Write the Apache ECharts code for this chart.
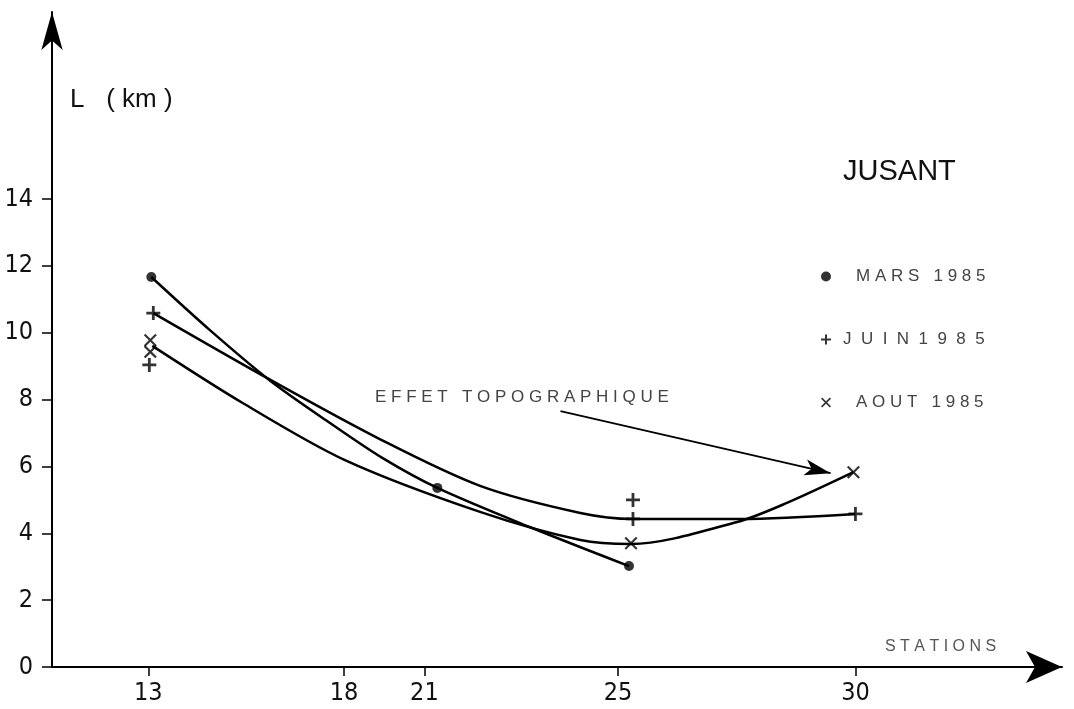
<!DOCTYPE html>
<html>
<head>
<meta charset="utf-8">
<script src="https://cdn.jsdelivr.net/npm/echarts@6/dist/echarts.min.js"></script>
<style>
  html, body { margin: 0; padding: 0; background: #fff; }
  #chart { width: 1074px; height: 709px; }
</style>
</head>
<body>
<div id="chart"></div>
<script>
// Station positions along the profile (axis units) and their labels
const stationKm = [9.7, 29.4, 37.5, 57.0, 80.9];
const stationLabels = ['13', '18', '21', '25', '30'];
const yTicks = [0, 2, 4, 6, 8, 10, 12, 14];

// Measured lengths L (km) per campaign: [position, value]
const marsPoints = [[10.0, 11.67], [38.8, 5.36], [58.1, 3.02]];
const juinPoints = [[10.2, 10.59], [9.8, 9.04], [58.5, 5.0], [58.5, 4.43], [80.9, 4.58]];
const aoutPoints = [[9.9, 9.78], [9.9, 9.43], [58.3, 3.70], [80.7, 5.83]];

// Hand-fitted trend curves through each campaign
const marsCurve = [[10.0, 11.67], [15.9, 10.08], [22.0, 8.56], [28.0, 7.30], [33.3, 6.25],
  [38.8, 5.36], [48.1, 4.19], [58.1, 3.02]];
const juinCurve = [[10.2, 10.59], [22.0, 8.59], [33.0, 6.82], [43.1, 5.42], [53.2, 4.61],
  [58.5, 4.43], [69.3, 4.43], [80.9, 4.58]];
const aoutCurve = [[10.1, 9.61], [19.2, 7.90], [29.5, 6.19], [43.1, 4.64], [53.2, 3.80],
  [58.3, 3.68], [69.0, 4.34], [74.0, 4.91], [80.7, 5.83]];

// Annotation arrow (tail, head)
const arrowTail = [51.2, 7.66];
const arrowHead = [78.4, 5.80];

const seriesNames = ['M A R S   1 9 8 5', 'J  U  I  N  1  9  8  5', 'A O U T   1 9 8 5'];

const PLUS = 'path://M-1.2,-6H1.2V-1.2H6V1.2H1.2V6H-1.2V1.2H-6V-1.2H-1.2Z';
const CROSS = 'path://M-6,-4.6L-4.6,-6L0,-1.4L4.6,-6L6,-4.6L1.4,0L6,4.6L4.6,6L0,1.4L-4.6,6L-6,4.6L-1.4,0Z';

const NARROW = "'Liberation Sans Narrow', 'DejaVu Sans Condensed', 'Arial Narrow', sans-serif";
const SANS = "'Liberation Sans', Arial, sans-serif";

function nearestLabel(v) {
  let best = 0;
  for (let i = 1; i < stationKm.length; i++) {
    if (Math.abs(stationKm[i] - v) < Math.abs(stationKm[best] - v)) best = i;
  }
  return stationLabels[best];
}

const curveStyle = { color: '#000', width: 2.5 };

const chart = echarts.init(document.getElementById('chart'), null, { renderer: 'canvas' });
chart.setOption({
  animation: false,
  backgroundColor: '#fff',
  grid: { left: 52, right: 12, top: 12, bottom: 42, containLabel: false },
  xAxis: {
    type: 'value', min: 0, max: 101.7,
    splitLine: { show: false },
    axisLine: {
      show: true, symbol: ['none', 'arrow'], symbolSize: [24, 36],
      lineStyle: { color: '#000', width: 2 }
    },
    axisTick: { show: true, customValues: stationKm, length: 9, lineStyle: { color: '#000', width: 1.5 } },
    axisLabel: {
      customValues: stationKm, formatter: nearestLabel, margin: 14,
      fontSize: 25, fontFamily: NARROW, color: '#111'
    }
  },
  yAxis: {
    type: 'value', min: 0, max: 19.6,
    splitLine: { show: false },
    axisLine: {
      show: true, symbol: ['none', 'arrow'], symbolSize: [16, 38],
      lineStyle: { color: '#000', width: 2 }
    },
    axisTick: { show: true, customValues: yTicks, length: 10, lineStyle: { color: '#000', width: 1.5 } },
    axisLabel: {
      customValues: yTicks, margin: 19,
      fontSize: 25, fontFamily: NARROW, color: '#111'
    }
  },
  legend: {
    orient: 'vertical', left: 816, top: 263, itemGap: 46,
    itemWidth: 10, itemHeight: 10,
    textStyle: { fontSize: 17, fontFamily: SANS, color: '#444' },
    data: [
      { name: seriesNames[0], icon: 'circle', textStyle: { padding: [0, 0, 0, 20] } },
      { name: seriesNames[1], icon: PLUS, textStyle: { padding: [0, 0, 0, 7] } },
      { name: seriesNames[2], icon: CROSS, textStyle: { padding: [0, 0, 0, 20] } }
    ]
  },
  graphic: [
    { type: 'text', left: 70, top: 87, style: { text: 'L   ( km )', fontSize: 26, fontFamily: SANS, fill: '#111' } },
    { type: 'text', left: 843, top: 157, style: { text: 'JUSANT', fontSize: 29, fontFamily: SANS, fill: '#111' } },
    { type: 'text', left: 375, top: 389, style: { text: 'E F F E T   T O P O G R A P H I Q U E', fontSize: 17, fontFamily: SANS, fill: '#444' } },
    { type: 'text', left: 885, top: 639, style: { text: 'S T A T I O N S', fontSize: 16, fontFamily: SANS, fill: '#555' } }
  ],
  series: [
    { type: 'line', data: marsCurve, smooth: 0.3, symbol: 'none', silent: true, lineStyle: curveStyle },
    { type: 'line', data: juinCurve, smooth: 0.3, symbol: 'none', silent: true, lineStyle: curveStyle },
    {
      type: 'line', data: aoutCurve, smooth: 0.3, symbol: 'none', silent: true, lineStyle: curveStyle,
      markLine: {
        silent: true, symbol: ['none', 'arrow'], symbolSize: [12, 26],
        label: { show: false },
        lineStyle: { color: '#000', width: 1.8, type: 'solid' },
        data: [[{ coord: arrowTail }, { coord: arrowHead }]]
      }
    },
    { type: 'scatter', name: seriesNames[0], data: marsPoints, symbol: 'circle', symbolSize: 10, itemStyle: { color: '#000' }, z: 5 },
    { type: 'scatter', name: seriesNames[1], data: juinPoints, symbol: PLUS, symbolSize: 14, itemStyle: { color: '#000' }, z: 5 },
    { type: 'scatter', name: seriesNames[2], data: aoutPoints, symbol: CROSS, symbolSize: 13, itemStyle: { color: '#000' }, z: 5 }
  ]
});
</script>
</body>
</html>
